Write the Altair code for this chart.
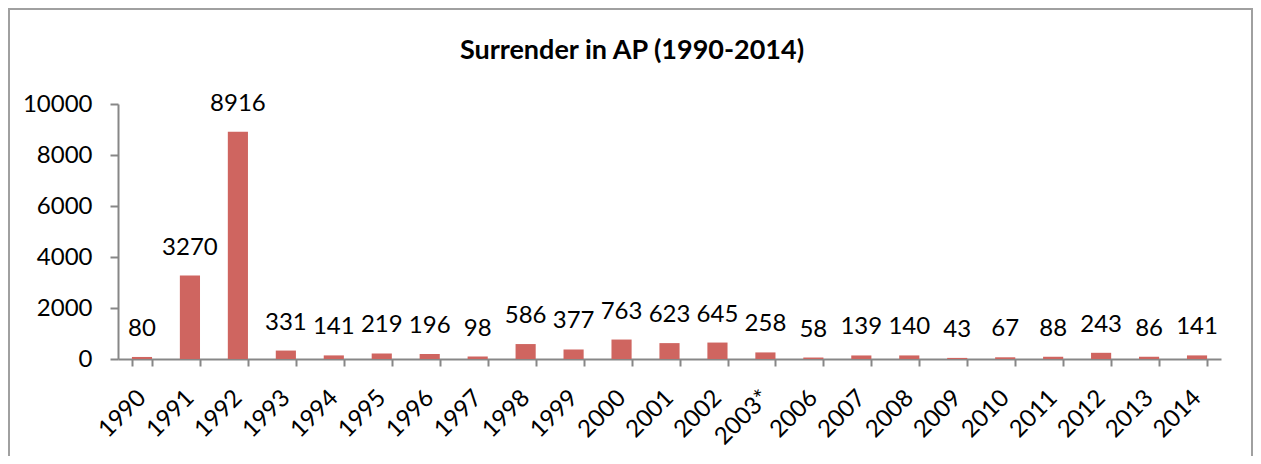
import altair as alt
import pandas as pd

years = ["1990", "1991", "1992", "1993", "1994", "1995", "1996", "1997", "1998",
         "1999", "2000", "2001", "2002", "2003*", "2006", "2007", "2008", "2009",
         "2010", "2011", "2012", "2013", "2014"]
surrenders = [80, 3270, 8916, 331, 141, 219, 196, 98, 586, 377, 763, 623, 645,
              258, 58, 139, 140, 43, 67, 88, 243, 86, 141]
y_ticks = [0, 2000, 4000, 6000, 8000, 10000]
title_text = "Surrender in AP (1990-2014)"

df = pd.DataFrame({"year": years, "value": surrenders})

FONT = "Lato"
AXIS_GRAY = "#878787"
W, H = 1103, 255
FS = 24

xenc = alt.X("year:N", sort=years,
             scale=alt.Scale(paddingInner=0.58, paddingOuter=0.29),
             axis=alt.Axis(title=None, tickBand="extent", labelAngle=-45,
                           labelAlign="right", labelBaseline="middle",
                           labelPadding=28, tickSize=7, domainColor=AXIS_GRAY,
                           tickColor=AXIS_GRAY, domainWidth=2, tickWidth=2,
                           labelFont=FONT, labelFontSize=FS, labelColor="black"))
yenc = alt.Y("value:Q",
             scale=alt.Scale(domain=[0, 10000], nice=False),
             axis=alt.Axis(title=None, values=y_ticks, grid=False, tickSize=8,
                           format="d",
                           labelPadding=18, domainColor=AXIS_GRAY,
                           tickColor=AXIS_GRAY, domainWidth=2, tickWidth=2,
                           labelFont=FONT, labelFontSize=FS, labelColor="black"))

base = alt.Chart(df)
bars = base.mark_bar(color="#cf6560").encode(x=xenc, y=yenc)
labels = base.mark_text(baseline="bottom", dy=-16, font=FONT, fontSize=FS,
                        color="black").encode(x=xenc, y=yenc,
                                              text=alt.Text("value:Q"))

frame = alt.Chart(alt.Data(values=[{}])).mark_rect(
    fill=None, stroke="#a0a0a0", strokeWidth=2
).encode(x=alt.value(-109), x2=alt.value(1134), y=alt.value(-95),
         y2=alt.value(400))

title = alt.Chart(alt.Data(values=[{"t": title_text}])).mark_text(
    font=FONT, fontSize=27, fontWeight="bold", color="black",
    align="center", baseline="alphabetic"
).encode(x=alt.value(514), y=alt.value(-45), text="t:N")

chart = alt.layer(frame, title, bars, labels).properties(
    width=W, height=H,
    padding={"left": 110, "top": 96, "right": 32, "bottom": 97},
    autosize=alt.AutoSizeParams(type="none"),
).configure_view(stroke=None)

chart.save("out.html", embed_options={"renderer": "svg", "actions": False})
